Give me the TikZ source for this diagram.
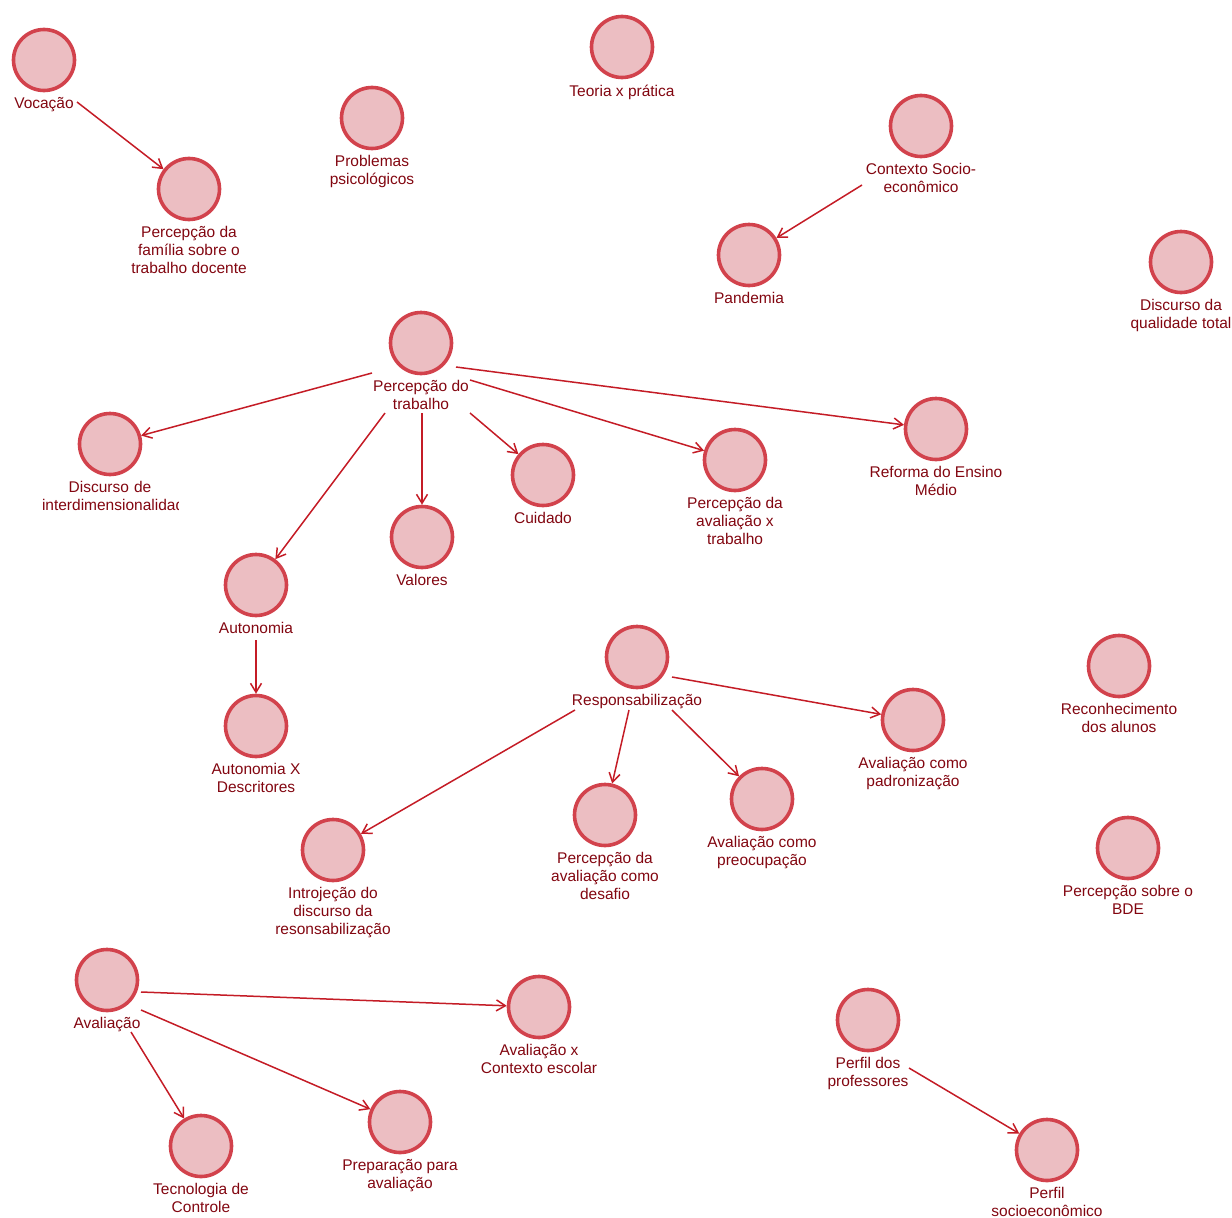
\documentclass[tikz,border=0pt]{standalone}
\usepackage{fontspec}
\setmainfont{Liberation Sans}
\usetikzlibrary{arrows.meta}
\definecolor{cfill}{RGB}{236,190,194}
\definecolor{cdraw}{RGB}{210,66,76}
\definecolor{ctext}{RGB}{130,6,16}
\definecolor{carrow}{RGB}{196,28,38}
\tikzset{
  circ/.style={circle,draw=cdraw,fill=cfill,line width=3.6pt,minimum size=61pt,inner sep=0pt},
  lab/.style={anchor=north,inner sep=0pt,align=center,text=ctext,
    font=\fontsize{15.5pt}{17.6pt}\selectfont},
  arr/.style={draw=carrow,line width=1.5pt,-{Straight Barb[length=9pt,width=11pt,line width=1.5pt]}},
}
\newcommand\cnode[4]{\node[circ] (#1) at (#2,#3) {}; \node[lab] (#1L) at (#2,#3+37.5) {#4};}
\begin{document}
\begin{tikzpicture}[x=1pt,y=-1pt]
\useasboundingbox (0,0) rectangle (1232,1218);
% nodes
\cnode{voc}{44}{60}{Vocação}
\cnode{fam}{189}{189}{Percepção da\\família sobre o\\trabalho docente}
\cnode{psi}{372}{118}{Problemas\\psicológicos}
\cnode{teo}{622}{47}{Teoria x prática}
\cnode{ctx}{921}{126}{Contexto Socio-\\econômico}
\cnode{pan}{749}{255}{Pandemia}
\cnode{qual}{1181}{262}{Discurso da\\qualidade total}
\cnode{ptr}{421}{343}{Percepção do\\trabalho}
\node[circ] (inter) at (110,444) {};
\begin{scope}
\clip (0,470) rectangle (178,520);
\node[lab,text width=136pt] (interL) at (110,481.5) {Discurso de\\\mbox{interdimensionalidade}};
\end{scope}
\cnode{ref}{936}{429}{Reforma do Ensino\\Médio}
\cnode{pavt}{735}{460}{Percepção da\\avaliação x\\trabalho}
\cnode{cui}{543}{475}{Cuidado}
\cnode{val}{422}{537}{Valores}
\cnode{aut}{256}{585}{Autonomia}
\cnode{autd}{256}{726}{Autonomia X\\Descritores}
\cnode{resp}{637}{657}{Responsabilização}
\cnode{pad}{913}{720}{Avaliação como\\padronização}
\cnode{rec}{1119}{666}{Reconhecimento\\dos alunos}
\cnode{preo}{762}{799}{Avaliação como\\preocupação}
\cnode{des}{605}{815}{Percepção da\\avaliação como\\desafio}
\cnode{intro}{333}{850}{Introjeção do\\discurso da\\resonsabilização}
\cnode{bde}{1128}{848}{Percepção sobre o\\BDE}
\cnode{ava}{107}{980}{Avaliação}
\cnode{avctx}{539}{1007}{Avaliação x\\Contexto escolar}
\cnode{prof}{868}{1020}{Perfil dos\\professores}
\cnode{tec}{201}{1146}{Tecnologia de\\Controle}
\cnode{prep}{400}{1122}{Preparação para\\avaliação}
\cnode{soc}{1047}{1150}{Perfil\\socioeconômico}
% tails
\coordinate (t1) at (77,102);
\coordinate (t2) at (862,185);
\coordinate (t3) at (372,373);
\coordinate (t4) at (385,413);
\coordinate (t5) at (422,413);
\coordinate (t6) at (470,413);
\coordinate (t7) at (470,380);
\coordinate (t8) at (456,367);
\coordinate (t9) at (256,640);
\coordinate (t10) at (575,710);
\coordinate (t11) at (629,710);
\coordinate (t12) at (672,710);
\coordinate (t13) at (672,677);
\coordinate (t14) at (141,992);
\coordinate (t15) at (141,1010);
\coordinate (t16) at (131,1032);
\coordinate (t17) at (909,1068);
% edges
\draw[arr] (t1) -- (fam);
\draw[arr] (t2) -- (pan);
\draw[arr] (t3) -- (inter);
\draw[arr] (t4) -- (aut);
\draw[arr] (t5) -- (val);
\draw[arr] (t6) -- (cui);
\draw[arr] (t7) -- (pavt);
\draw[arr] (t8) -- (ref);
\draw[arr] (t9) -- (autd);
\draw[arr] (t10) -- (intro);
\draw[arr] (t11) -- (des);
\draw[arr] (t12) -- (preo);
\draw[arr] (t13) -- (pad);
\draw[arr] (t14) -- (avctx);
\draw[arr] (t15) -- (prep);
\draw[arr] (t16) -- (tec);
\draw[arr] (t17) -- (soc);
\end{tikzpicture}
\end{document}
